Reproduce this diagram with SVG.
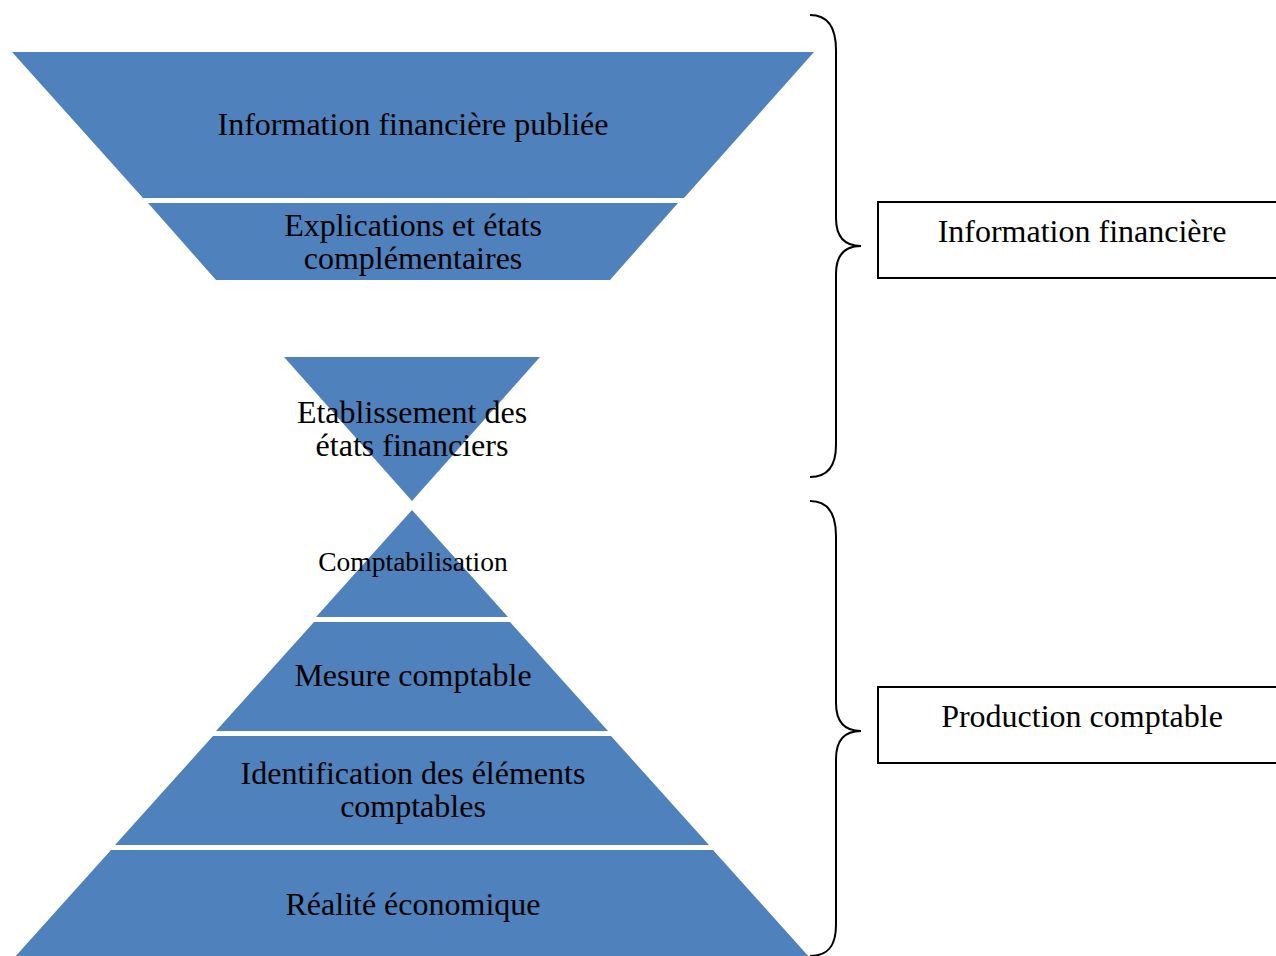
<svg xmlns="http://www.w3.org/2000/svg" width="1276" height="956" viewBox="0 0 1276 956">
<style>
.shape{fill:#4F81BD;stroke:none}
.t{font-family:"Liberation Serif","Times New Roman",serif;font-size:32px;fill:#000;text-anchor:middle}
.ts{font-size:27.5px}
.brace{fill:none;stroke:#000;stroke-width:2}
.box{fill:#fff;stroke:#000;stroke-width:2}
</style>
<rect width="1276" height="956" fill="#fff"/>
<g id="n-publiee">
<polygon class="shape" points="12,52 814,52 684,198 143,198"/>
<text class="t" x="413" y="135">Information financière publiée</text>
</g>
<g id="n-explications">
<polygon class="shape" points="148,203 678,203 610,280 216,280"/>
<text class="t" x="413" y="236">Explications et états</text>
<text class="t" x="413" y="269">complémentaires</text>
</g>
<g id="n-etablissement">
<polygon class="shape" points="284,357 540,357 412,501"/>
<text class="t" x="412" y="423">Etablissement des</text>
<text class="t" x="412" y="456">états financiers</text>
</g>
<g id="n-comptabilisation">
<polygon class="shape" points="412,510 508,617 316,617"/>
<text class="t ts" x="413" y="571">Comptabilisation</text>
</g>
<g id="n-mesure">
<polygon class="shape" points="314,622 510,622 608,731 216,731"/>
<text class="t" x="413" y="686">Mesure comptable</text>
</g>
<g id="n-identification">
<polygon class="shape" points="213,736 611,736 709,845 115,845"/>
<text class="t" x="413" y="784">Identification des éléments</text>
<text class="t" x="413" y="817">comptables</text>
</g>
<g id="n-realite">
<polygon class="shape" points="111,850 713,850 810,958 14,958"/>
<text class="t" x="413" y="915">Réalité économique</text>
</g>
<g id="connectors">
<path class="brace" d="M 810 15 C 828 15, 836 28, 836 50 L 836 218 C 836 236, 844 246, 861 246 C 844 246, 836 256, 836 274 L 836 445 C 836 466, 828 477, 810 477"/>
<path class="brace" d="M 810 501 C 828 501, 836 514, 836 536 L 836 703 C 836 721, 844 731, 861 731 C 844 731, 836 741, 836 759 L 836 925 C 836 946, 828 956, 810 956"/>
</g>
<g id="n-info-fin">
<rect class="box" x="878" y="202" width="410" height="76"/>
<text class="t" x="1082" y="242">Information financière</text>
</g>
<g id="n-production">
<rect class="box" x="878" y="687" width="410" height="76"/>
<text class="t" x="1082" y="727">Production comptable</text>
</g>
</svg>
